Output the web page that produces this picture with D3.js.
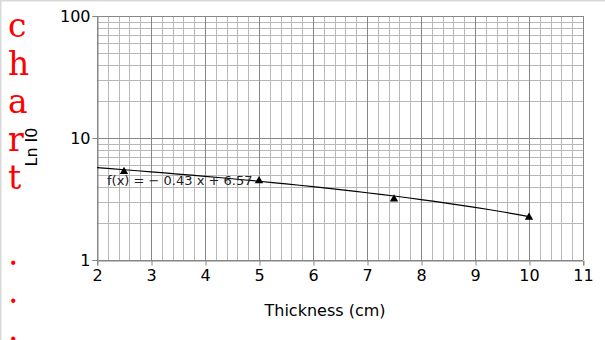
<!DOCTYPE html>
<html>
<head>
<meta charset="utf-8">
<script src="https://cdn.jsdelivr.net/npm/d3@7"></script>
<style>
  body { margin: 0; background: #fff; }
  svg { display: block; font-family: "DejaVu Sans", sans-serif; }
</style>
</head>
<body>
<script>
// data
const thickness = [2.5, 5, 7.5, 10];
const lnI0 = [5.4, 4.55, 3.22, 2.28];
const trendSlope = -0.43;
const trendIntercept = 6.57;
const trendRange = [2, 10];
const xTicks = [2, 3, 4, 5, 6, 7, 8, 9, 10, 11];
const yTicks = [1, 10, 100];
const sideTitle = ['c', 'h', 'a', 'r', 't', ' ', '.', '.', '.'];

const width = 605, height = 340;
const margin = { left: 97, right: 22, top: 16, bottom: 80 };

const svg = d3.select('body').append('svg')
  .attr('width', width)
  .attr('height', height);

// light frame on the top and left edge
svg.append('path')
  .attr('d', `M0.5,${height} V0.5 H${width}`)
  .attr('fill', 'none')
  .attr('stroke', '#d9d9d9')
  .attr('stroke-width', 2);

const x = d3.scaleLinear().domain([2, 11]).range([margin.left, width - margin.right]);
const y = d3.scaleLog().domain([1, 100]).range([height - margin.bottom, margin.top]);

const grid = svg.append('g');

// minor vertical lines every 0.2
const xMinor = d3.range(0, 46).map(i => 2 + i * 0.2).filter(v => Math.abs(v - Math.round(v)) > 1e-6);
grid.selectAll('.vminor').data(xMinor).enter().append('line')
  .attr('x1', d => Math.round(x(d)) + 0.5).attr('x2', d => Math.round(x(d)) + 0.5)
  .attr('y1', y(100)).attr('y2', y(1))
  .attr('stroke', '#b8b8b8');

// minor horizontal lines 2..9 per decade
const yMinor = [];
[1, 10].forEach(dec => { for (let k = 2; k <= 9; k++) yMinor.push(dec * k); });
grid.selectAll('.hminor').data(yMinor).enter().append('line')
  .attr('x1', x(2)).attr('x2', x(11))
  .attr('y1', d => Math.round(y(d)) + 0.5).attr('y2', d => Math.round(y(d)) + 0.5)
  .attr('stroke', '#b8b8b8');

// major lines
grid.selectAll('.vmajor').data(xTicks).enter().append('line')
  .attr('x1', d => Math.round(x(d)) + 0.5).attr('x2', d => Math.round(x(d)) + 0.5)
  .attr('y1', y(100)).attr('y2', y(1))
  .attr('stroke', '#878787');
grid.selectAll('.hmajor').data(yTicks).enter().append('line')
  .attr('x1', x(2)).attr('x2', x(11))
  .attr('y1', d => Math.round(y(d)) + 0.5).attr('y2', d => Math.round(y(d)) + 0.5)
  .attr('stroke', '#878787');

// axes
const xAxis = svg.append('g')
  .attr('transform', `translate(0,${Math.round(y(1)) + 0.5})`)
  .call(d3.axisBottom(x).tickValues(xTicks).tickSize(5).tickPadding(4).tickFormat(d3.format('d')));
const yAxis = svg.append('g')
  .attr('transform', `translate(${Math.round(x(2)) + 0.5},0)`)
  .call(d3.axisLeft(y).tickValues(yTicks).tickSize(5).tickPadding(2).tickFormat(d3.format('d')));

[xAxis, yAxis].forEach(a => {
  a.select('.domain').attr('stroke', '#878787');
  a.selectAll('.tick line').attr('stroke', '#878787');
  a.selectAll('.tick text')
    .attr('fill', '#000')
    .style('font-family', '"DejaVu Sans", sans-serif')
    .style('font-size', '16px');
});
xAxis.selectAll('.tick').each(function () {
  d3.select(this).select('line').attr('transform', 'translate(0.5,0)');
});

// trend line f(x) = -0.43 x + 6.57
const trendX = d3.range(trendRange[0], trendRange[1] + 0.001, 0.25);
const line = d3.line()
  .x(d => x(d))
  .y(d => y(trendSlope * d + trendIntercept));
svg.append('path')
  .datum(trendX)
  .attr('d', line)
  .attr('fill', 'none')
  .attr('stroke', '#000')
  .attr('stroke-width', 1.2);

// markers
const tri = d3.symbol().type(d3.symbolTriangle).size(30);
svg.selectAll('.pt').data(thickness).enter().append('path')
  .attr('d', tri)
  .attr('transform', (d, i) => `translate(${x(d)},${y(lnI0[i]) + 1})`)
  .attr('fill', '#000');

// trend label
svg.append('text')
  .attr('x', 107).attr('y', 185)
  .style('font-size', '13px')
  .attr('fill', '#222')
  .text('f(x) = \u2212 0.43 x + 6.57');

// axis titles
svg.append('text')
  .attr('x', 325).attr('y', 316)
  .attr('text-anchor', 'middle')
  .style('font-size', '16px')
  .text('Thickness (cm)');

svg.append('text')
  .attr('transform', `translate(37,147) rotate(-90)`)
  .attr('text-anchor', 'middle')
  .style('font-size', '16px')
  .text('Ln I0');

// red vertical title
svg.append('g').selectAll('text').data(sideTitle).enter().append('text')
  .attr('x', 8)
  .attr('y', (d, i) => 37 + i * 38)
  .style('font-family', '"DejaVu Serif", serif')
  .style('font-size', '33px')
  .attr('fill', '#ff0000')
  .text(d => d);
</script>
</body>
</html>
